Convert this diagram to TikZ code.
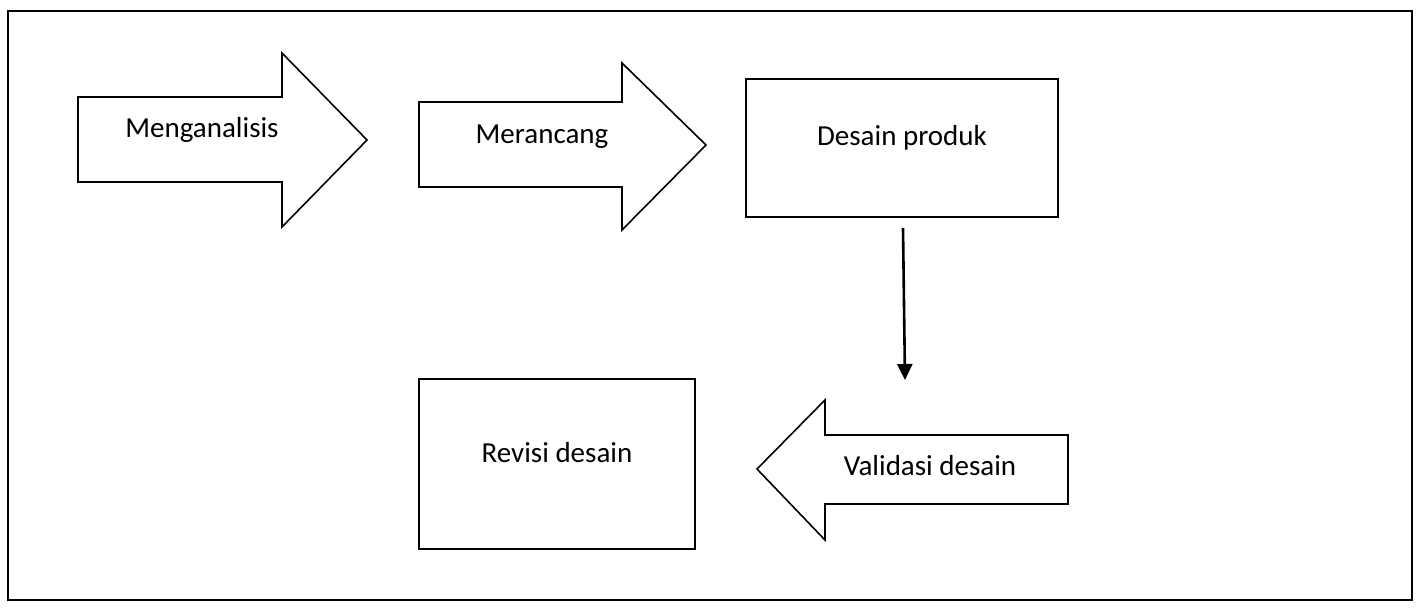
\documentclass[tikz,border=0pt]{standalone}
\usepackage{fontspec}
\setmainfont{Carlito}
\usetikzlibrary{arrows.meta}

\begin{document}
\begin{tikzpicture}[x=1pt, y=-1pt,
    shape line/.style={draw, line width=1.6pt, line join=miter},
    box/.style={draw, line width=1.6pt, inner sep=0pt},
    lbl/.style={font=\fontsize{29}{35}\selectfont, inner sep=0pt},
    conn/.style={line width=2.6pt, -{Triangle[width=15pt, length=16pt]}}]

    \useasboundingbox (0,0) rectangle (1419,610);
    \draw [line width=2pt] (8,11) rectangle (1412,600);

    % block arrows
    \draw [shape line] (78,97) -- (282,97) -- (282,53) -- (367,140)
        -- (282,227) -- (282,182) -- (78,182) -- cycle;
    \draw [shape line] (419,102) -- (622,102) -- (622,63) -- (706,145)
        -- (622,230) -- (622,187) -- (419,187) -- cycle;
    \draw [shape line] (1068,435) -- (825,435) -- (825,400) -- (757,469)
        -- (825,540) -- (825,504) -- (1068,504) -- cycle;

    \node [lbl] (analisis) at (202,130) {Menganalisis};
    \node [lbl] (rancang)  at (542,137) {Merancang};
    \node [lbl] (validasi) at (930,466) {Validasi desain};

    % boxes
    \node [box, minimum width=312pt, minimum height=138pt] (desain) at (902,148) {};
    \node [lbl] (desaintxt) at ([yshift=10pt]desain.center) {Desain produk};

    \node [box, minimum width=276pt, minimum height=170pt] (revisi) at (557,464) {};
    \node [lbl] (revisitxt) at ([yshift=11pt]revisi.center) {Revisi desain};

    \coordinate (vtip) at (905,380);
    \draw [conn] ([xshift=1pt, yshift=-10pt]desain.south) -- (vtip);
\end{tikzpicture}
\end{document}
